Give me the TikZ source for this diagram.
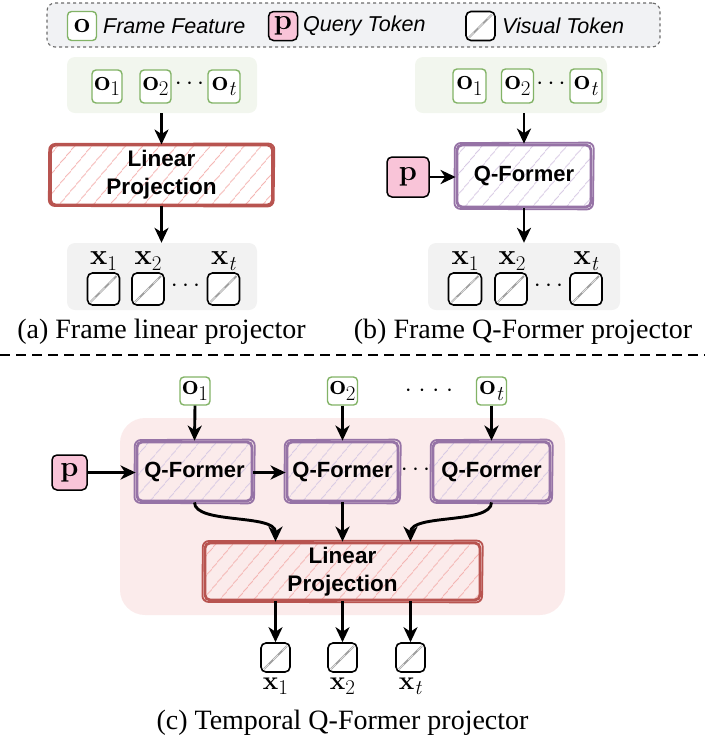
\documentclass[tikz,border=0pt]{standalone}
\usepackage{fontspec}
\setsansfont{Liberation Sans}
\newfontfamily\capfont{Liberation Serif}
\usetikzlibrary{arrows.meta,patterns.meta,calc}
\newcommand\vect[2]{\textbf{#1}\raisebox{-0.2em}{\fontsize{21}{21}\selectfont #2}}
\definecolor{greenline}{HTML}{82B366}
\definecolor{greenbg}{HTML}{F2F6EE}
\definecolor{querypink}{HTML}{F9C4D8}
\definecolor{redline}{HTML}{B85450}
\definecolor{redhatch}{HTML}{F4B4B2}
\definecolor{purpleline}{HTML}{9673A6}
\definecolor{purplehatch}{HTML}{D8CAE4}
\definecolor{greybg}{HTML}{F2F2F2}
\definecolor{legendbg}{HTML}{F1F2F4}
\definecolor{pinkbg}{HTML}{FBEBEB}
\tikzset{
  mathtxt/.style={font=\fontsize{29}{30}\selectfont, inner sep=0pt},
  dotstxt/.style={font=\fontsize{27}{30}\selectfont, inner sep=0pt},
  framebox/.style={draw=greenline, line width=1.4pt, fill=white, rounded corners=4pt, inner sep=0pt, font=\fontsize{29}{30}\selectfont},
  querybox/.style={draw=black, line width=1.5pt, fill=querypink, rounded corners=5pt, inner sep=0pt, font=\fontsize{29}{30}\selectfont},
  tokenbox/.style={draw=black, line width=1.6pt, fill=white, rounded corners=5pt, inner sep=0pt,
    path picture={\draw[gray!75, line width=1.8pt] ([shift={(3pt,3pt)}]path picture bounding box.south west) -- ([shift={(-3pt,-3pt)}]path picture bounding box.north east);
                  \draw[gray!25, line width=0.8pt, dash pattern=on 7pt off 6pt] ([shift={(3pt,3pt)}]path picture bounding box.south west) -- ([shift={(-3pt,-3pt)}]path picture bounding box.north east);}},
  panelbg/.style={inner sep=0pt, rounded corners=8pt},
  linproj/.style={draw=redline, line width=2.8pt, rounded corners=5pt, inner sep=0pt,
    pattern={Lines[angle=50,distance=13pt,line width=1pt]}, pattern color=redhatch,
    font=\sffamily\bfseries\fontsize{22.5}{28}\selectfont, align=center},
  qformer/.style={draw=purpleline, line width=2.8pt, rounded corners=5pt, inner sep=0pt,
    pattern={Lines[angle=50,distance=13pt,line width=1pt]}, pattern color=purplehatch,
    font=\sffamily\bfseries\fontsize{22}{26}\selectfont},
  arr/.style={line width=2.9pt, -{Stealth[length=15pt,width=14pt,inset=4.5pt]}},
  legtxt/.style={font=\sffamily\itshape\fontsize{21.5}{24}\selectfont, anchor=west, inner sep=0pt},
  captxt/.style={font=\capfont\fontsize{28}{32}\selectfont, inner sep=0pt, anchor=base},
}
\newcommand\sketchline[2]{%
  \draw[#2, line width=1.8pt, rounded corners=6pt]
    ([shift={(-0.8pt,0.6pt)}]#1.north west) -- ([shift={(1.4pt,1.0pt)}]#1.north east) --
    ([shift={(0.6pt,-1.0pt)}]#1.south east) -- ([shift={(-1.2pt,-0.5pt)}]#1.south west) -- cycle;}
\begin{document}
\begin{tikzpicture}[x=1pt,y=-1pt]
\useasboundingbox (0,0) rectangle (705,740);
% ---------------- legend
\node[panelbg, draw=gray!85!black, dashed, line width=1.1pt, fill=legendbg, minimum width=613pt, minimum height=44pt] (legend) at (353.5,25) {};
\node[framebox, minimum width=29pt, minimum height=29pt] (lo) at (82,26) {\textbf{o}};
\node[legtxt] (lot) at (103,26) {Frame Feature};
\node[querybox, minimum width=29pt, minimum height=29pt] (lp) at (283,26) {\textbf{p}};
\node[legtxt] (lpt) at (303,26) {Query Token};
\node[tokenbox, minimum width=29pt, minimum height=29pt] (lv) at (480.5,26) {};
\node[legtxt] (lvt) at (502,26) {Visual Token};
% ---------------- panel (a)
\node[panelbg, fill=greenbg, minimum width=190pt, minimum height=56pt] (abg) at (162,85) {};
\node[framebox, minimum width=30pt, minimum height=33pt] (ao1) at (107,86.5) {\vect{o}{1}};
\node[framebox, minimum width=31pt, minimum height=33pt] (ao2) at (155.5,86.5) {\vect{o}{2}};
\node[framebox, minimum width=32pt, minimum height=33pt] (aot) at (224,86.5) {\vect{o}{\textit{t}}};
\node[dotstxt] (aodots) at (189.5,84) {$\cdots$};
\node[linproj, minimum width=222pt, minimum height=60pt] (alp) at (161.5,175) {Linear\\Projection};
\sketchline{alp}{redline}
\node[panelbg, fill=greybg, minimum width=190pt, minimum height=67pt] (agbg) at (162,276.5) {};
\node[tokenbox, minimum width=32pt, minimum height=32pt] (ax1) at (103.5,289) {};
\node[tokenbox, minimum width=32pt, minimum height=32pt] (ax2) at (148,289) {};
\node[tokenbox, minimum width=32pt, minimum height=32pt] (axt) at (223.5,289) {};
\node[dotstxt] (axdots) at (185.5,286) {$\cdots$};
\node[mathtxt] (lax1) at (103.5,261) {\vect{x}{1}};
\node[mathtxt] (lax2) at (148,261) {\vect{x}{2}};
\node[mathtxt] (laxt) at (223.5,261) {\vect{x}{\textit{t}}};
\draw[arr] (abg.south -| alp.north) -- (alp.north);
\draw[arr] (alp.south) -- (agbg.north -| alp.south);
\node[captxt] (capa) at (161.5,338) {(a) Frame linear projector};
% ---------------- panel (b)
\node[panelbg, fill=greenbg, minimum width=192pt, minimum height=56pt] (bbg) at (511,85) {};
\node[framebox, minimum width=33pt, minimum height=34pt] (bo1) at (469.5,86) {\vect{o}{1}};
\node[framebox, minimum width=32pt, minimum height=34pt] (bo2) at (517.5,86) {\vect{o}{2}};
\node[framebox, minimum width=32pt, minimum height=34pt] (bot) at (586,86) {\vect{o}{\textit{t}}};
\node[dotstxt] (bodots) at (551,84) {$\cdots$};
\node[qformer, minimum width=134pt, minimum height=62pt] (bqf) at (524,176) {Q-Former};
\sketchline{bqf}{purpleline}
\node[querybox, minimum width=42pt, minimum height=40pt] (bp) at (408,177) {\textbf{p}};
\node[panelbg, fill=greybg, minimum width=192pt, minimum height=67pt] (bgbg) at (524,276.5) {};
\node[tokenbox, minimum width=33pt, minimum height=32pt] (bx1) at (465,289) {};
\node[tokenbox, minimum width=32pt, minimum height=32pt] (bx2) at (511,289) {};
\node[tokenbox, minimum width=32pt, minimum height=32pt] (bxt) at (586,289) {};
\node[dotstxt] (bxdots) at (548.5,286) {$\cdots$};
\node[mathtxt] (lbx1) at (465,261) {\vect{x}{1}};
\node[mathtxt] (lbx2) at (512,261) {\vect{x}{2}};
\node[mathtxt] (lbxt) at (586,261) {\vect{x}{\textit{t}}};
\draw[arr] (bbg.south -| bqf.north) -- (bqf.north);
\draw[arr] (bp.east) -- (bp.east -| bqf.west);
\draw[arr] (bqf.south) -- (bgbg.north -| bqf.south);
\node[captxt] (capb) at (523,338) {(b) Frame Q-Former projector};
% ---------------- separator
\coordinate (sepl) at (0,355);
\coordinate (sepr) at (705,355);
\draw[line width=2.6pt, dash pattern=on 10pt off 6pt] (sepl) -- (sepr);
% ---------------- panel (c)
\node[panelbg, fill=pinkbg, rounded corners=25pt, minimum width=445pt, minimum height=197pt] (cbg) at (342.5,516.5) {};
\node[framebox, minimum width=30pt, minimum height=28pt] (co1) at (195,391) {\vect{o}{1}};
\node[framebox, minimum width=30pt, minimum height=28pt] (co2) at (342.5,391) {\vect{o}{2}};
\node[framebox, minimum width=30pt, minimum height=28pt] (cot) at (491.5,391) {\vect{o}{\textit{t}}};
\node[dotstxt] (codots) at (429,391) {${\cdot}\mkern5mu{\cdot}\mkern5mu{\cdot}\mkern5mu{\cdot}$};
\node[qformer, minimum width=115pt, minimum height=59pt] (cqf1) at (194.5,471.5) {Q-Former};
\sketchline{cqf1}{purpleline}
\node[qformer, minimum width=111pt, minimum height=59pt] (cqf2) at (342.5,471.5) {Q-Former};
\sketchline{cqf2}{purpleline}
\node[qformer, minimum width=117pt, minimum height=59pt] (cqf3) at (491.5,471.5) {Q-Former};
\sketchline{cqf3}{purpleline}
\node[dotstxt] (cqdots) at (415.5,470) {$\cdots$};
\node[querybox, minimum width=35pt, minimum height=35pt] (cp) at (69.5,472.5) {\textbf{p}};
\node[linproj, minimum width=275pt, minimum height=57pt] (clp) at (342.5,571.5) {Linear\\Projection};
\sketchline{clp}{redline}
\node[tokenbox, minimum width=29pt, minimum height=29pt] (cx1) at (275.5,657.5) {};
\node[tokenbox, minimum width=29pt, minimum height=29pt] (cx2) at (342.5,657.5) {};
\node[tokenbox, minimum width=29pt, minimum height=29pt] (cxt) at (410.5,657.5) {};
\node[mathtxt, font=\fontsize{26}{28}\selectfont] (lcx1) at (275.5,686) {\vect{x}{1}};
\node[mathtxt, font=\fontsize{26}{28}\selectfont] (lcx2) at (342.5,686) {\vect{x}{2}};
\node[mathtxt, font=\fontsize{26}{28}\selectfont] (lcxt) at (410.5,686) {\vect{x}{\textit{t}}};
\draw[arr] (co1.south) -- (cqf1.north);
\draw[arr] (co2.south) -- (cqf2.north);
\draw[arr] (cot.south) -- (cot.south |- cqf3.north);
\draw[arr] (cp.east) -- (cp.east -| cqf1.west);
\draw[arr] (cqf1.east |- cp.east) -- (cp.east -| cqf2.west);
\draw[arr] (cqf1.south) .. controls +(0,22) and +(0,-28) .. (clp.north -| cx1.north);
\draw[arr] (cqf2.south) -- (clp.north -| cqf2.south);
\draw[arr] (cqf3.south) .. controls +(0,22) and +(0,-28) .. (clp.north -| cxt.north);
\draw[arr] (clp.south -| cx1.north) -- (cx1.north);
\draw[arr] (clp.south -| cx2.north) -- (cx2.north);
\draw[arr] (clp.south -| cxt.north) -- (cxt.north);
\node[captxt] (capc) at (342.5,729) {(c) Temporal Q-Former projector};
\end{tikzpicture}
\end{document}
